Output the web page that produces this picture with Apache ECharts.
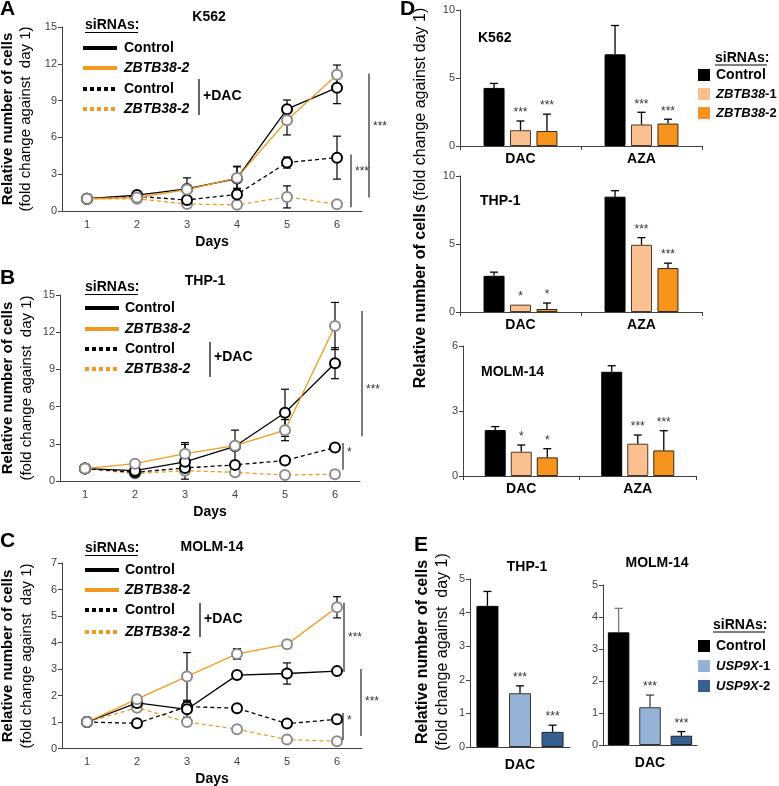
<!DOCTYPE html>
<html>
<head>
<meta charset="utf-8">
<script src="https://cdn.jsdelivr.net/npm/echarts@6/dist/echarts.min.js"></script>
<style>html,body{margin:0;padding:0;background:#fff;}#chart{width:779px;height:786px;}</style>
</head>
<body>
<div id="chart"></div>
<script>
// ================= DATA =================
const days = ['1', '2', '3', '4', '5', '6'];

// Panel A – K562 (relative number of cells per day)
const aCtrl       = [1, 1.3, 1.8, 2.65, 8.3, 10.05];
const aCtrlErr    = [0, 0.2, 0.9, 1.0, 0.75, 1.3];
const aZb2        = [1, 1.1, 1.75, 2.7, 7.4, 11.1];
const aZb2Err     = [0, 0.1, 0.3, 0.9, 1.2, 0.8];
const aCtrlDac    = [1, 1.2, 0.9, 1.35, 3.95, 4.35];
const aCtrlDacErr = [0, 0.15, 0.2, 0.5, 0.45, 1.75];
const aZbDac      = [1, 1.0, 0.57, 0.5, 1.15, 0.55];
const aZbDacErr   = [0, 0.1, 0.1, 0.1, 0.9, 0.1];
const aSig = [{lo: 0.3, hi: 4.6, at: 3.2, mark: '***'}, {lo: 1.1, hi: 11.2, at: 6.9, mark: '***'}];

// Panel B – THP-1
const bCtrl       = [1, 0.83, 1.55, 2.8, 5.5, 9.5];
const bCtrlErr    = [0, 0.1, 1.4, 1.3, 1.9, 1.25];
const bZb2        = [1, 1.4, 2.2, 2.85, 4.1, 12.5];
const bZb2Err     = [0, 0.1, 0.9, 0.3, 0.85, 1.9];
const bCtrlDac    = [1, 0.7, 1.05, 1.3, 1.65, 2.7];
const bCtrlDacErr = [0, 0, 0, 0, 0, 0];
const bZbDac      = [1, 0.6, 0.83, 0.7, 0.48, 0.55];
const bZbDacErr   = [0, 0, 0, 0, 0, 0];
const bSig = [{lo: 3.6, hi: 13.7, at: 7.4, mark: '***'}, {lo: 0.9, hi: 3.06, at: 2.3, mark: '*'}];

// Panel C – MOLM-14
const cCtrl       = [1, 1.72, 1.48, 2.77, 2.83, 2.92];
const cCtrlErr    = [0, 0.1, 0.3, 0.15, 0.4, 0.1];
const cZb2        = [1, 1.86, 2.72, 3.57, 3.93, 5.33];
const cZb2Err     = [0, 0.1, 0.9, 0.2, 0.15, 0.4];
const cCtrlDac    = [1, 0.95, 1.58, 1.52, 0.94, 1.1];
const cCtrlDacErr = [0, 0, 0, 0, 0, 0];
const cZbDac      = [1, 1.54, 1.0, 0.73, 0.34, 0.27];
const cZbDacErr   = [0, 0, 0, 0, 0, 0];
const cSig = [{lo: 2.9, hi: 5.5, at: 4.2, mark: '***'}, {lo: 0.32, hi: 1.34, at: 1.04, mark: '*'}, {lo: 0.47, hi: 3.0, at: 1.76, mark: '***'}];

// Panel D – bars (DAC / AZA)
const dGroups = ['DAC', 'AZA'];
const dK562Ctrl = [4.27, 6.74], dK562CtrlErr = [0.33, 2.12];
const dK562Zb1  = [1.16, 1.58], dK562Zb1Err  = [0.68, 0.9];
const dK562Zb2  = [1.1, 1.65],  dK562Zb2Err  = [1.24, 0.32];
const dK562Sig  = [['', ''], ['***', '***'], ['***', '***']];

const dThpCtrl = [2.66, 8.48], dThpCtrlErr = [0.27, 0.44];
const dThpZb1  = [0.54, 4.94], dThpZb1Err  = [0, 0.53];
const dThpZb2  = [0.22, 3.23], dThpZb2Err  = [0.44, 0.36];
const dThpSig  = [['', ''], ['*', '***'], ['*', '***']];

const dMolCtrl = [2.12, 4.81], dMolCtrlErr = [0.16, 0.28];
const dMolZb1  = [1.12, 1.49], dMolZb1Err  = [0.31, 0.4];
const dMolZb2  = [0.86, 1.18], dMolZb2Err  = [0.4, 0.91];
const dMolSig  = [['', ''], ['*', '***'], ['*', '***']];

// Panel E – bars (DAC)
const eGroups = ['DAC'];
const eThpCtrl = [4.2],  eThpCtrlErr = [0.43];
const eThpU1   = [1.6],  eThpU1Err   = [0.22];
const eThpU2   = [0.45], eThpU2Err   = [0.2];
const eThpSig  = [[''], ['***'], ['***']];

const eMolCtrl = [3.52], eMolCtrlErr = [0.75];
const eMolU1   = [1.18], eMolU1Err   = [0.38];
const eMolU2   = [0.29], eMolU2Err   = [0.13];
const eMolSig  = [[''], ['***'], ['***']];

// ================= STYLE =================
const FF = '"Liberation Sans", Arial, Helvetica, sans-serif';
const AX = '#404040';
const LBL = '#404040';
const ORANGE_LINE = '#F39A1E';
const GREY_MK = '#8C8C8C';
const PEACH = '#FAC090';
const ORANGE_BAR = '#F7941D';
const BLUE1 = '#95B3D7';
const BLUE2 = '#376092';

const gridBoxes = [
  {left: 62,  top: 27,  width: 300, height: 184},   // A
  {left: 60,  top: 295, width: 300, height: 186},   // B
  {left: 62,  top: 563, width: 300, height: 185.5}, // C
  {left: 460, top: 10,  width: 242, height: 136},   // D K562
  {left: 460, top: 176, width: 242, height: 136},   // D THP-1
  {left: 463, top: 346, width: 233, height: 130},   // D MOLM-14
  {left: 470, top: 579, width: 100, height: 168},   // E THP-1
  {left: 603, top: 585, width: 94,  height: 160}    // E MOLM-14
];

function yAx(g, max, interval) {
  return {type: 'value', gridIndex: g, min: 0, max: max, interval: interval,
    axisLine: {show: true, lineStyle: {color: AX, width: 1}},
    axisTick: {show: true, inside: false, length: 4, lineStyle: {color: AX}},
    splitLine: {show: false},
    axisLabel: {fontSize: 11, color: LBL, fontFamily: FF, margin: 5}};
}
function xDays(g) {
  return {type: 'category', gridIndex: g, data: days, boundaryGap: true,
    axisLine: {show: true, lineStyle: {color: AX, width: 1}},
    axisTick: {show: false}, splitLine: {show: false},
    axisLabel: {fontSize: 11, color: LBL, fontFamily: FF, margin: 8},
    name: 'Days', nameLocation: 'middle', nameGap: 24,
    nameTextStyle: {fontWeight: 'bold', fontSize: 14, color: '#000', fontFamily: FF}};
}
function xGroups(g, cats, margin, ticks) {
  return {type: 'category', gridIndex: g, data: cats, boundaryGap: true,
    axisLine: {show: true, lineStyle: {color: AX, width: 1}},
    axisTick: {show: ticks, length: 4, lineStyle: {color: AX}}, splitLine: {show: false},
    axisLabel: {fontSize: 14, fontWeight: 'bold', color: '#000', fontFamily: FF, margin: margin}};
}

function errLine(g, vals, errs, color) {
  return {type: 'custom', xAxisIndex: g, yAxisIndex: g, z: 1, clip: false, silent: true,
    data: vals.map((v, i) => [i, v, errs[i]]),
    renderItem: function (params, api) {
      const i = api.value(0), v = api.value(1), e = api.value(2);
      if (!e) return null;
      const t = api.coord([i, v + e]), b = api.coord([i, Math.max(v - e, 0)]);
      const w = 4, st = {stroke: color, lineWidth: 1.2};
      return {type: 'group', children: [
        {type: 'line', shape: {x1: t[0], y1: t[1], x2: b[0], y2: b[1]}, style: st},
        {type: 'line', shape: {x1: t[0] - w, y1: t[1], x2: t[0] + w, y2: t[1]}, style: st},
        {type: 'line', shape: {x1: b[0] - w, y1: b[1], x2: b[0] + w, y2: b[1]}, style: st}
      ]};
    }};
}
function lineS(g, vals, color, dashed, mk) {
  return {type: 'line', xAxisIndex: g, yAxisIndex: g, data: vals, z: 2,
    symbol: 'circle', symbolSize: 10,
    lineStyle: {color: color, width: 1.3, type: dashed ? [4, 3] : 'solid'},
    itemStyle: {color: '#fff', borderColor: mk, borderWidth: 2},
    emphasis: {disabled: true}, silent: true, animation: false};
}
function bracketS(g, sig, dxs) {
  return {type: 'custom', xAxisIndex: g, yAxisIndex: g, z: 3, clip: false, silent: true,
    data: sig.map(s => [5, s.lo, s.hi, s.at]),
    renderItem: function (params, api) {
      const s = sig[params.dataIndex];
      const p1 = api.coord([5, api.value(1)]), p2 = api.coord([5, api.value(2)]), pa = api.coord([5, api.value(3)]);
      const x = p1[0] + dxs[params.dataIndex];
      return {type: 'group', children: [
        {type: 'line', shape: {x1: x, y1: p1[1], x2: x, y2: p2[1]}, style: {stroke: '#222', lineWidth: 1.2}},
        {type: 'text', x: x + 4, y: pa[1], style: {text: s.mark, font: '12px ' + FF, fill: '#333', align: 'left', verticalAlign: 'middle'}}
      ]};
    }};
}
function linePanel(g, d) {
  return [
    errLine(g, d.zbDac, d.zbDacErr, '#000'),
    errLine(g, d.ctrlDac, d.ctrlDacErr, '#000'),
    errLine(g, d.zb, d.zbErr, '#000'),
    errLine(g, d.ctrl, d.ctrlErr, '#000'),
    lineS(g, d.zbDac, ORANGE_LINE, true, GREY_MK),
    lineS(g, d.ctrlDac, '#000', true, '#000'),
    lineS(g, d.ctrl, '#000', false, '#000'),
    lineS(g, d.zb, ORANGE_LINE, false, GREY_MK),
    bracketS(g, d.sig, d.dx)
  ];
}

function barPanel(g, list, barWidth, barGap, sigs) {
  const out = [];
  list.forEach(s => {
    out.push({type: 'bar', xAxisIndex: g, yAxisIndex: g, data: s.vals, barWidth: barWidth, barGap: barGap,
      itemStyle: {color: s.color, borderColor: s.border, borderWidth: 1}, silent: true, animation: false, z: 2});
  });
  const pitch = barWidth * (1 + parseFloat(barGap) / 100);
  const n = list.length;
  const data = [], meta = [];
  list.forEach((s, k) => s.vals.forEach((v, i) => {
    data.push([i, v, s.errs[i]]);
    meta.push({k: k, mark: sigs[k][i], col: s.errColor});
  }));
  out.push({type: 'custom', xAxisIndex: g, yAxisIndex: g, z: 3, clip: false, silent: true, data: data,
    renderItem: function (params, api) {
      const m = meta[params.dataIndex];
      const i = api.value(0), v = api.value(1), e = api.value(2);
      const base = api.coord([i, v]);
      const x = base[0] + (m.k - (n - 1) / 2) * pitch;
      const topY = api.coord([i, v + e])[1];
      const ch = [];
      if (e > 0) {
        const st = {stroke: m.col, lineWidth: 1.3};
        ch.push({type: 'line', shape: {x1: x, y1: base[1], x2: x, y2: topY}, style: st});
        ch.push({type: 'line', shape: {x1: x - 4, y1: topY, x2: x + 4, y2: topY}, style: st});
      }
      if (m.mark) {
        ch.push({type: 'text', x: x, y: topY - 2, style: {text: m.mark, font: '12px ' + FF, fill: '#333', align: 'center', verticalAlign: 'bottom'}});
      }
      return {type: 'group', children: ch};
    }});
  return out;
}

// ================= GRAPHICS (text, legends) =================
function txt(x, y, text, font, extra) {
  return {type: 'text', x: x, y: y, silent: true, z: 100,
    style: Object.assign({text: text, font: font, fill: '#000', align: 'left', verticalAlign: 'middle'}, extra || {})};
}
function rtxt(x, y, text, rich, extra) {
  return {type: 'text', x: x, y: y, silent: true, z: 100,
    style: Object.assign({text: text, rich: rich, fill: '#000', align: 'left', verticalAlign: 'middle'}, extra || {})};
}
function ln(x1, y1, x2, y2, stroke, w, dash) {
  return {type: 'line', silent: true, z: 100, shape: {x1: x1, y1: y1, x2: x2, y2: y2},
    style: {stroke: stroke, lineWidth: w, lineDash: dash || null}};
}
function rect(x, y, w, h, fill) {
  return {type: 'rect', silent: true, z: 100, shape: {x: x, y: y, width: w, height: h}, style: {fill: fill}};
}
const B14 = 'bold 14px ' + FF;
function richName(size, italicSuffix) {
  return {
    i: {fontStyle: 'italic', fontWeight: 'bold', fontSize: size, fontFamily: FF, fill: '#000'},
    n: {fontStyle: italicSuffix ? 'italic' : 'normal', fontWeight: 'bold', fontSize: size, fontFamily: FF, fill: '#000'}
  };
}
function lineLegend(L) {
  const g = [];
  g.push(txt(L.sx, L.sy, 'siRNAs:', B14));
  g.push(ln(L.sx, L.sy + 7.5, L.sx + 53, L.sy + 7.5, '#000', 1));
  g.push(ln(L.x0, L.rows[0], L.x1, L.rows[0], '#000', 4));
  g.push(ln(L.x0, L.rows[1], L.x1, L.rows[1], ORANGE_LINE, 4));
  g.push(ln(L.x0, L.rows[2], L.x1, L.rows[2], '#000', 4, [4, 3]));
  g.push(ln(L.x0, L.rows[3], L.x1, L.rows[3], ORANGE_LINE, 4, [4, 3]));
  g.push(txt(L.xt, L.rows[0], 'Control', B14));
  g.push(rtxt(L.xt, L.rows[1], '{i|ZBTB38}{n|-2}', richName(14, L.ital)));
  g.push(txt(L.xt, L.rows[2], 'Control', B14));
  g.push(rtxt(L.xt, L.rows[3], '{i|ZBTB38}{n|-2}', richName(14, L.ital)));
  g.push(ln(L.bx, L.by0, L.bx, L.by1, '#000', 1.2));
  g.push(txt(L.bx + 4, L.dy, '+DAC', B14));
  return g;
}
function barLegend(L) {
  const g = [];
  g.push(txt(L.sx, L.sy, 'siRNAs:', B14));
  g.push(ln(L.sx, L.sy + 7, L.sx + 52, L.sy + 7, '#000', 1));
  L.items.forEach((it, k) => {
    const y = L.rows[k];
    g.push(rect(L.qx, y - 6, 12, 12, it.color));
    if (it.rich) g.push(rtxt(L.xt, y, it.text, richName(13, false)));
    else g.push(txt(L.xt, y, it.text, B14));
  });
  return g;
}
function vtxt(x, y, text, font) {
  return {type: 'text', x: x, y: y, rotation: Math.PI / 2, silent: true, z: 100,
    style: {text: text, font: font, fill: '#000', align: 'center', verticalAlign: 'middle'}};
}

const graphics = [].concat(
  // panel letters
  [txt(0, 9, 'A', 'bold 21px ' + FF), txt(0, 278, 'B', 'bold 21px ' + FF), txt(0, 541, 'C', 'bold 21px ' + FF),
   txt(400, 9, 'D', 'bold 21px ' + FF), txt(414, 545, 'E', 'bold 21px ' + FF)],
  // panel cell-line titles
  [txt(209, 17, 'K562', B14, {align: 'center'}), txt(205, 281, 'THP-1', B14, {align: 'center'}),
   txt(212, 547, 'MOLM-14', B14, {align: 'center'}),
   txt(478, 38, 'K562', B14), txt(480, 201, 'THP-1', B14), txt(481, 372, 'MOLM-14', B14),
   txt(527, 567, 'THP-1', B14, {align: 'center'}), txt(657, 563, 'MOLM-14', B14, {align: 'center'})],
  // y-axis titles
  [vtxt(8, 119, 'Relative number of cells', 'bold 15px ' + FF), vtxt(26, 119, '(fold change against  day 1)', '15px ' + FF),
   vtxt(8, 388, 'Relative number of cells', 'bold 15px ' + FF), vtxt(27, 388, '(fold change against  day 1)', '15px ' + FF),
   vtxt(8, 656, 'Relative number of cells', 'bold 15px ' + FF), vtxt(27, 656, '(fold change against  day 1)', '15px ' + FF),
   vtxt(423, 652, 'Relative number of cells', 'bold 16px ' + FF), vtxt(443, 652, '(fold change against  day 1)', '16px ' + FF),
   {type: 'text', x: 421, y: 198, rotation: Math.PI / 2, silent: true, z: 100,
    style: {text: '{b|Relative number of cells} {n|(fold change against day 1)}', align: 'center', verticalAlign: 'middle',
      rich: {b: {fontWeight: 'bold', fontSize: 16, fontFamily: FF, fill: '#000'}, n: {fontSize: 16, fontFamily: FF, fill: '#000'}}}}],
  lineLegend({sx: 85, sy: 25, x0: 83, x1: 117, xt: 124, rows: [48, 68, 89, 109], bx: 199, by0: 79, by1: 115, dy: 96, ital: true}),
  lineLegend({sx: 85, sy: 287, x0: 85, x1: 119, xt: 125, rows: [308, 329, 349, 369], bx: 210, by0: 342, by1: 377, dy: 357, ital: true}),
  lineLegend({sx: 85, sy: 548, x0: 85, x1: 119, xt: 125, rows: [570, 590, 610, 632], bx: 200, by0: 603, by1: 637, dy: 619, ital: false}),
  barLegend({sx: 715, sy: 58, qx: 698, xt: 716, rows: [75, 94, 113], items: [
    {color: '#000', text: 'Control'}, {color: PEACH, text: '{i|ZBTB38}{n|-1}', rich: true}, {color: ORANGE_BAR, text: '{i|ZBTB38}{n|-2}', rich: true}]}),
  barLegend({sx: 713, sy: 625, qx: 698, xt: 716, rows: [646, 666, 686], items: [
    {color: '#000', text: 'Control'}, {color: BLUE1, text: '{i|USP9X}{n|-1}', rich: true}, {color: BLUE2, text: '{i|USP9X}{n|-2}', rich: true}]})
);

// ================= OPTION =================
const series = [].concat(
  linePanel(0, {ctrl: aCtrl, ctrlErr: aCtrlErr, zb: aZb2, zbErr: aZb2Err, ctrlDac: aCtrlDac, ctrlDacErr: aCtrlDacErr, zbDac: aZbDac, zbDacErr: aZbDacErr, sig: aSig, dx: [14, 32]}),
  linePanel(1, {ctrl: bCtrl, ctrlErr: bCtrlErr, zb: bZb2, zbErr: bZb2Err, ctrlDac: bCtrlDac, ctrlDacErr: bCtrlDacErr, zbDac: bZbDac, zbDacErr: bZbDacErr, sig: bSig, dx: [27, 8]}),
  linePanel(2, {ctrl: cCtrl, ctrlErr: cCtrlErr, zb: cZb2, zbErr: cZb2Err, ctrlDac: cCtrlDac, ctrlDacErr: cCtrlDacErr, zbDac: cZbDac, zbDacErr: cZbDacErr, sig: cSig, dx: [7, 6, 24]}),
  barPanel(3, [
    {vals: dK562Ctrl, errs: dK562CtrlErr, color: '#000', border: '#000', errColor: '#000'},
    {vals: dK562Zb1, errs: dK562Zb1Err, color: PEACH, border: '#4a3a2a', errColor: '#000'},
    {vals: dK562Zb2, errs: dK562Zb2Err, color: ORANGE_BAR, border: '#3a2a10', errColor: '#000'}], 21, '26%', dK562Sig),
  barPanel(4, [
    {vals: dThpCtrl, errs: dThpCtrlErr, color: '#000', border: '#000', errColor: '#000'},
    {vals: dThpZb1, errs: dThpZb1Err, color: PEACH, border: '#4a3a2a', errColor: '#000'},
    {vals: dThpZb2, errs: dThpZb2Err, color: ORANGE_BAR, border: '#3a2a10', errColor: '#000'}], 21, '26%', dThpSig),
  barPanel(5, [
    {vals: dMolCtrl, errs: dMolCtrlErr, color: '#000', border: '#000', errColor: '#000'},
    {vals: dMolZb1, errs: dMolZb1Err, color: PEACH, border: '#4a3a2a', errColor: '#000'},
    {vals: dMolZb2, errs: dMolZb2Err, color: ORANGE_BAR, border: '#3a2a10', errColor: '#000'}], 21, '24%', dMolSig),
  barPanel(6, [
    {vals: eThpCtrl, errs: eThpCtrlErr, color: '#000', border: '#000', errColor: '#000'},
    {vals: eThpU1, errs: eThpU1Err, color: BLUE1, border: '#333', errColor: '#000'},
    {vals: eThpU2, errs: eThpU2Err, color: BLUE2, border: '#222', errColor: '#000'}], 22, '48%', eThpSig),
  barPanel(7, [
    {vals: eMolCtrl, errs: eMolCtrlErr, color: '#000', border: '#000', errColor: '#777'},
    {vals: eMolU1, errs: eMolU1Err, color: BLUE1, border: '#333', errColor: '#444'},
    {vals: eMolU2, errs: eMolU2Err, color: BLUE2, border: '#222', errColor: '#000'}], 21.5, '46%', eMolSig)
);

const option = {
  animation: false,
  backgroundColor: '#fff',
  textStyle: {fontFamily: FF},
  grid: gridBoxes.map(b => Object.assign({show: false, containLabel: false, outerBoundsMode: 'none'}, b)),
  xAxis: [xDays(0), xDays(1), xDays(2),
    xGroups(3, dGroups, 6, true), xGroups(4, dGroups, 6, true), xGroups(5, dGroups, 6, true),
    xGroups(6, eGroups, 11, false), xGroups(7, eGroups, 11, false)],
  yAxis: [yAx(0, 15, 3), yAx(1, 15, 3), yAx(2, 7, 1),
    yAx(3, 10, 5), yAx(4, 10, 5), yAx(5, 6, 3), yAx(6, 5, 1), yAx(7, 5, 1)],
  series: series,
  graphic: graphics
};

const chart = echarts.init(document.getElementById('chart'), null, {renderer: 'canvas'});
chart.setOption(option);
</script>
</body>
</html>
